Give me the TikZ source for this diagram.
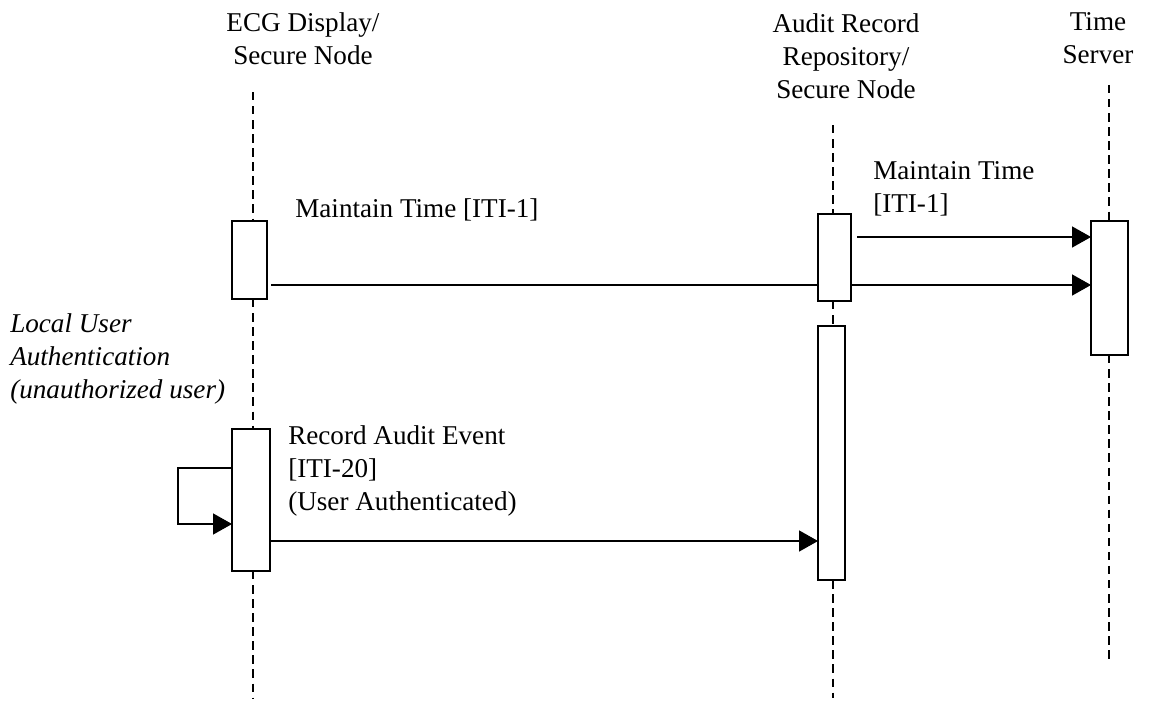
\documentclass[tikz,border=0pt]{standalone}
\usepackage{fontspec}
\setmainfont{Liberation Serif}
\usetikzlibrary{arrows.meta}

\tikzset{
	lbl/.style={font=\fontsize{19.3}{23.5}\selectfont, inner sep=0pt},
	bar/.style={draw, line width=1.1pt, fill=white, inner sep=0pt, outer sep=0pt, anchor=north west},
	life/.style={line width=1.1pt, dash pattern=on 6pt off 4pt},
	msg/.style={line width=0.8pt},
	tip/.style={msg, -{Triangle[length=13.5pt,width=15pt]}}
}

\begin{document}
\begin{tikzpicture}[x=0.025cm, y=-0.025cm]
			%%%%% START %%%%%
			\useasboundingbox (0, 0) rectangle (1162, 703);
			
			\node[lbl, align=center] (ecg) at (303, 39) {ECG Display/\\Secure Node};
			\node[lbl, align=center] (aud) at (846, 56) {Audit Record\\Repository/\\Secure Node};
			\node[lbl, align=center] (tsrv) at (1098, 38) {Time\\Server};
			
			\coordinate (ecgtop) at (253, 92);
			\coordinate (ecgend) at (253, 698);
			\coordinate (audtop) at (833, 125);
			\coordinate (audend) at (833, 698);
			\coordinate (tsrvtop) at (1109, 85);
			\coordinate (tsrvend) at (1109, 660);
			
			\node[bar, minimum width=0.875cm, minimum height=1.95cm] (ecgA) at (232, 221) {};
			\node[bar, minimum width=0.95cm, minimum height=3.55cm] (ecgB) at (232, 429) {};
			\node[bar, minimum width=0.825cm, minimum height=2.175cm] (audA) at (818, 214) {};
			\node[bar, minimum width=0.675cm, minimum height=6.35cm] (audB) at (818, 326) {};
			\node[bar, minimum width=0.925cm, minimum height=3.35cm] (tsrvA) at (1091, 221) {};
			
			% lifelines
			\draw[life] (ecgtop) -- (ecgtop |- ecgA.north);
			\draw[life] (ecgtop |- ecgA.south) -- (ecgtop |- ecgB.north);
			\draw[life] (ecgtop |- ecgB.south) -- (ecgend);
			\draw[life] (audtop) -- (audtop |- audA.north);
			\draw[life] (audtop |- audA.south) -- (audtop |- audB.north);
			\draw[life] (audtop |- audB.south) -- (audend);
			\draw[life] (tsrvtop) -- (tsrvtop |- tsrvA.north);
			\draw[life] (tsrvtop |- tsrvA.south) -- (tsrvend);
			
			% messages
			\coordinate (m1) at (0, 237);
			\coordinate (m2) at (0, 285);
			\coordinate (m3) at (0, 541);
			\coordinate (loopa) at (178, 468);
			\coordinate (loopb) at (178, 524);
			
			\draw[tip] ([xshift=4.5pt]audA.east |- m1) -- (tsrvA.west |- m1);
			\draw[msg] ([xshift=3pt]ecgA.east |- m2) -- (audA.west |- m2);
			\draw[tip] (audA.east |- m2) -- (tsrvA.west |- m2);
			\draw[tip] (ecgB.east |- m3) -- (audB.west |- m3);
			\draw[tip] (ecgB.west |- loopa) -- (loopa) -- (loopb) -- (ecgB.west |- loopb);
			
			\node[lbl, anchor=west] (mt1) at (295, 210) {Maintain Time [ITI-1]};
			\node[lbl, anchor=west, align=left] (mt2) at (873, 188.5) {Maintain Time\\{}[ITI-1]};
			\node[lbl, anchor=west, align=left, font=\fontsize{19.3}{23.5}\selectfont\itshape] (lua) at (10, 359) {Local User\\Authentication\\(unauthorized user)};
			\node[lbl, anchor=west, align=left] (rae) at (288, 471) {Record Audit Event\\{}[ITI-20]\\(User Authenticated)};
			
			%%%%% END %%%%%
		\end{tikzpicture}
\end{document}
